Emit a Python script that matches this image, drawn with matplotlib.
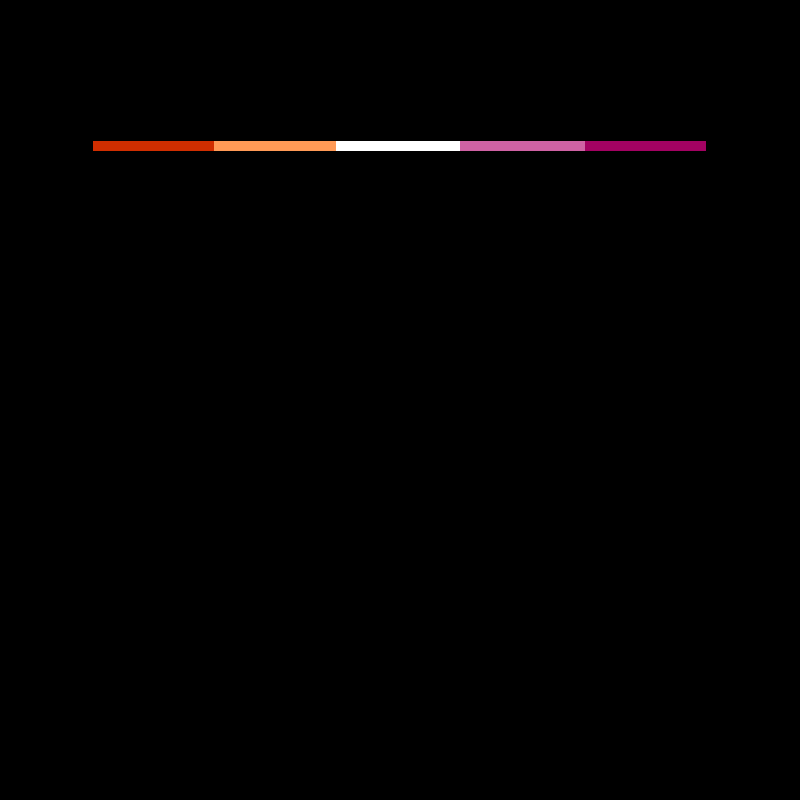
import matplotlib
matplotlib.use('Agg')
import matplotlib.pyplot as plt

# segment widths, left to right
widths = [121, 122, 124, 125, 121]
colors = ['#D02E00', '#FF9A56', '#FFFFFF', '#CF62A4', '#A30262']

fig = plt.figure(figsize=(8, 8), dpi=100, facecolor='black')
ax = fig.add_axes([0, 0, 1, 1])
ax.set_facecolor('black')
ax.set_xlim(0, 800)
ax.set_ylim(800, 0)
ax.axis('off')

left = 93
for w, c in zip(widths, colors):
    ax.barh(145.75, w, height=10.5, left=left, color=c, linewidth=0)
    left += w

fig.savefig('out.png', dpi=100, facecolor='black')
